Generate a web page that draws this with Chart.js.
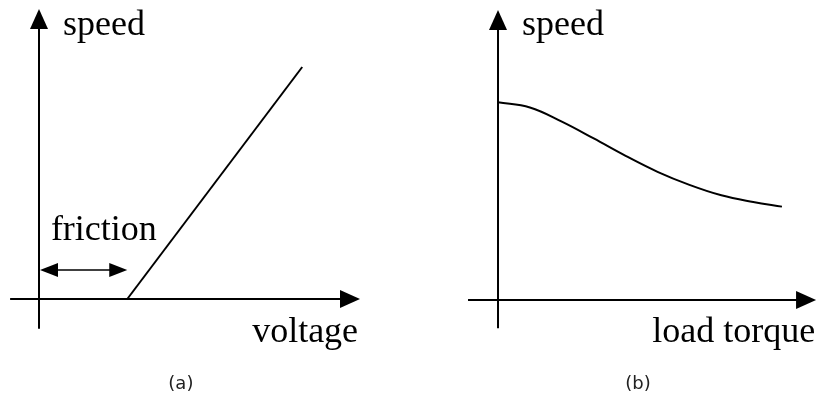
<!DOCTYPE html>
<html>
<head>
<meta charset="utf-8">
<script src="https://cdn.jsdelivr.net/npm/chart.js@4.4.1/dist/chart.umd.min.js"></script>
<style>
    html, body { margin: 0; padding: 0; background: #fff; }
    #wrap { position: relative; width: 818px; height: 398px; }
    canvas { position: absolute; top: 0; }
</style>
</head>
<body>
<div id="wrap">
    <canvas id="painelA" width="409" height="398" style="left:0"></canvas>
    <canvas id="painelB" width="409" height="398" style="left:409px"></canvas>
</div>
<script>
// (a) velocidade x tensão: zona morta de atrito e depois reta
const tensao = [2.75, 8.2];
const velocidadeA = [0, 8.0];
const atrito = [0, 2.75];

// (b) velocidade x torque de carga
const torque = [0, 1.0, 2.0, 3.0, 4.0, 5.0, 6.0, 7.0, 8.0, 8.9];
const velocidadeB = [6.82, 6.64, 6.15, 5.57, 4.97, 4.42, 3.97, 3.61, 3.38, 3.22];

// extensão dos eixos desenhados (unidades dos dados)
const eixoXA = [-0.9, 10];
const eixoYA = [-1.03, 10];
const eixoXB = [-0.94, 9.97];
const eixoYB = [-0.97, 10];

const serif = '36px "Liberation Serif", "Times New Roman", serif';
const sans = '18px "DejaVu Sans", sans-serif';

function pontos(xs, ys) {
    return xs.map((x, i) => ({ x: x, y: ys[i] }));
}

function seta(ctx, x, y, ang, comp, larg) {
    ctx.save();
    ctx.translate(x, y);
    ctx.rotate(ang);
    ctx.beginPath();
    ctx.moveTo(0, 0);
    ctx.lineTo(-comp, -larg);
    ctx.lineTo(-comp, larg);
    ctx.closePath();
    ctx.fill();
    ctx.restore();
}

// plugin que desenha eixos com setas e os textos
function eixosPlugin(eixoX, eixoY, textos, extra) {
    return {
        id: 'eixos',
        afterDatasetsDraw(chart) {
            const ctx = chart.ctx;
            const sx = chart.scales.x, sy = chart.scales.y;
            const x0 = sx.getPixelForValue(0), y0 = sy.getPixelForValue(0);
            ctx.save();
            ctx.strokeStyle = '#000';
            ctx.fillStyle = '#000';
            ctx.lineWidth = 2;

            const xa = sx.getPixelForValue(eixoX[0]), xb = sx.getPixelForValue(eixoX[1]);
            ctx.beginPath();
            ctx.moveTo(xa, y0);
            ctx.lineTo(xb - 10, y0);
            ctx.stroke();
            seta(ctx, xb, y0, 0, 20, 9);

            const ya = sy.getPixelForValue(eixoY[0]), yb = sy.getPixelForValue(eixoY[1]);
            ctx.beginPath();
            ctx.moveTo(x0, ya);
            ctx.lineTo(x0, yb + 10);
            ctx.stroke();
            seta(ctx, x0, yb, -Math.PI / 2, 20, 9);

            if (extra) extra(chart, ctx);

            textos.forEach(t => {
                ctx.font = t.font;
                ctx.fillStyle = t.cor || '#000';
                ctx.textAlign = t.align;
                ctx.textBaseline = t.base || 'alphabetic';
                ctx.fillText(t.texto, sx.getPixelForValue(t.x), sy.getPixelForValue(t.y));
            });
            ctx.restore();
        }
    };
}

function opcoes(xmin, xmax, ymin, ymax) {
    return {
        responsive: false,
        animation: false,
        layout: { padding: 0 },
        plugins: { legend: { display: false }, tooltip: { enabled: false } },
        scales: {
            x: { type: 'linear', display: false, min: xmin, max: xmax },
            y: { type: 'linear', display: false, min: ymin, max: ymax }
        }
    };
}

// Gráfico (a)
new Chart(document.getElementById('painelA'), {
    type: 'line',
    data: {
        datasets: [{
            data: pontos(tensao, velocidadeA),
            borderColor: '#000',
            borderWidth: 2,
            pointRadius: 0,
            tension: 0
        }]
    },
    options: opcoes(-1.215, 11.526, -3.414, 10.31),
    plugins: [eixosPlugin(eixoXA, eixoYA, [
        { texto: 'speed', x: 0.75, y: 9.1, align: 'left', font: serif },
        { texto: 'friction', x: 0.37, y: 2.03, align: 'left', font: serif },
        { texto: 'voltage', x: 9.94, y: -1.48, align: 'right', font: serif },
        { texto: '(a)', x: 4.42, y: -2.93, align: 'center', base: 'middle', font: sans, cor: '#222' }
    ], (chart, ctx) => {
        // seta dupla indicando a faixa de atrito
        const sx = chart.scales.x, sy = chart.scales.y;
        const y = sy.getPixelForValue(1.0);
        const xa = sx.getPixelForValue(atrito[0]), xb = sx.getPixelForValue(atrito[1]);
        ctx.lineWidth = 1.6;
        ctx.beginPath();
        ctx.moveTo(xa + 10, y);
        ctx.lineTo(xb - 10, y);
        ctx.stroke();
        seta(ctx, xb, y, 0, 18, 7);
        seta(ctx, xa + 1, y, Math.PI, 18, 7);
    })]
});

// Gráfico (b)
new Chart(document.getElementById('painelB'), {
    type: 'line',
    data: {
        datasets: [{
            data: pontos(torque, velocidadeB),
            borderColor: '#000',
            borderWidth: 2,
            pointRadius: 0,
            tension: 0.4
        }]
    },
    options: opcoes(-2.79, 10.03, -3.379, 10.345),
    plugins: [eixosPlugin(eixoXB, eixoYB, [
        { texto: 'speed', x: 0.75, y: 9.14, align: 'left', font: serif },
        { texto: 'load torque', x: 9.94, y: -1.45, align: 'right', font: serif },
        { texto: '(b)', x: 4.39, y: -2.9, align: 'center', base: 'middle', font: sans, cor: '#222' }
    ])]
});
</script>
</body>
</html>
